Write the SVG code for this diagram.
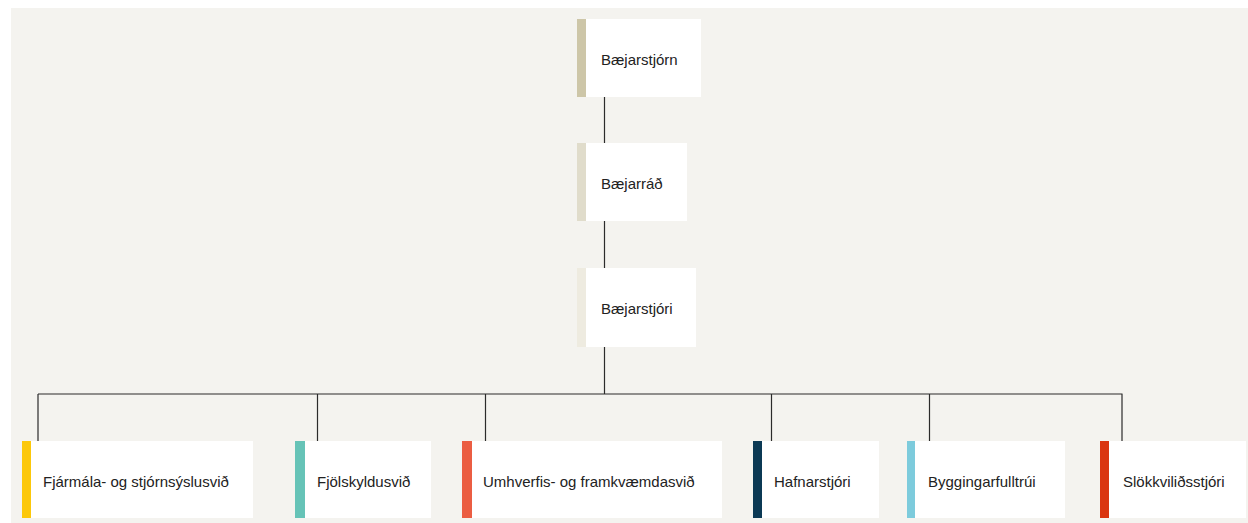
<svg xmlns="http://www.w3.org/2000/svg" width="1248" height="523" viewBox="0 0 1248 523">
<style>
.box{fill:#ffffff}
.lbl{font-family:"Liberation Sans",Arial,sans-serif;font-size:15px;fill:#222222}
.con{stroke:#2b2b2b;stroke-width:1.2;fill:none}
</style>
<rect x="0" y="0" width="1248" height="523" fill="#ffffff"/>
<rect x="11" y="8" width="1237" height="515" fill="#f4f3ef"/>
<g id="connectors">
<path class="con" d="M604.5 97V143M604.5 221V268M604.5 347V394M38 394H1122.5M38 394V441M317.5 394V441M485.5 394V441M771.5 394V441M929.5 394V441M1122 394V441"/>
</g>
<g id="n-baejarstjorn">
<rect class="box" x="577" y="19" width="124" height="78"/>
<rect x="577" y="19" width="9" height="78" fill="#cdc6a8"/>
<text class="lbl" x="601" y="65">Bæjarstjórn</text>
</g>
<g id="n-baejarrad">
<rect class="box" x="577" y="143" width="110" height="78"/>
<rect x="577" y="143" width="9" height="78" fill="#e0dccb"/>
<text class="lbl" x="601" y="189">Bæjarráð</text>
</g>
<g id="n-baejarstjori">
<rect class="box" x="577" y="268" width="119" height="79"/>
<rect x="577" y="268" width="9" height="79" fill="#eeebe0"/>
<text class="lbl" x="601" y="314">Bæjarstjóri</text>
</g>
<g id="n-fjarmala">
<rect class="box" x="22" y="441" width="231" height="77"/>
<rect x="22" y="441" width="9" height="77" fill="#fcc80a"/>
<text class="lbl" x="43" y="487">Fjármála- og stjórnsýslusvið</text>
</g>
<g id="n-fjolskyldu">
<rect class="box" x="295" y="441" width="136" height="77"/>
<rect x="295" y="441" width="10" height="77" fill="#66c3b7"/>
<text class="lbl" x="317" y="487">Fjölskyldusvið</text>
</g>
<g id="n-umhverfis">
<rect class="box" x="462" y="441" width="260" height="77"/>
<rect x="462" y="441" width="10" height="77" fill="#eb5d42"/>
<text class="lbl" x="483" y="487">Umhverfis- og framkvæmdasvið</text>
</g>
<g id="n-hafnarstjori">
<rect class="box" x="753" y="441" width="126" height="77"/>
<rect x="753" y="441" width="9" height="77" fill="#0b3954"/>
<text class="lbl" x="774" y="487">Hafnarstjóri</text>
</g>
<g id="n-byggingar">
<rect class="box" x="907" y="441" width="158" height="77"/>
<rect x="907" y="441" width="8" height="77" fill="#7dcbdc"/>
<text class="lbl" x="928" y="487">Byggingarfulltrúi</text>
</g>
<g id="n-slokkvilid">
<rect class="box" x="1100" y="441" width="146" height="77"/>
<rect x="1100" y="441" width="9" height="77" fill="#da3510"/>
<text class="lbl" x="1123" y="487">Slökkviliðsstjóri</text>
</g>
</svg>
